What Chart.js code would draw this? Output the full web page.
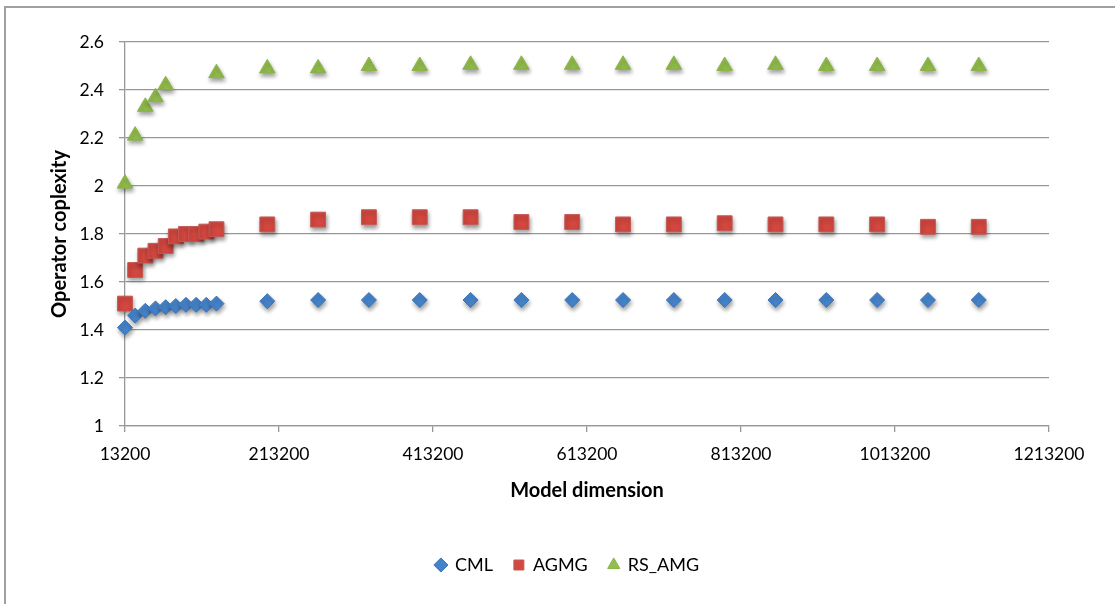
<!DOCTYPE html>
<html>
<head>
<meta charset="utf-8">
<script src="https://cdn.jsdelivr.net/npm/chart.js@4/dist/chart.umd.min.js"></script>
<style>
  html, body { margin: 0; padding: 0; background: #fff; overflow: hidden; }
  #wrap { position: relative; width: 1115px; height: 604px; }
  #frame {
    position: absolute; left: 4px; top: 6px; width: 1300px; height: 800px;
    border-left: 2px solid #a0a0a0; border-top: 2px solid #a0a0a0;
    pointer-events: none;
  }
  canvas { position: absolute; left: 0; top: 0; }
</style>
</head>
<body>
<div id="wrap">
  <canvas id="chart" width="1115" height="604"></canvas>
  <div id="frame"></div>
</div>
<script>
// Model dimensions (x values)
const modelDims = [13200, 26400, 39600, 52800, 66000, 79200, 92400, 105600, 118800, 132000,
  198000, 264000, 330000, 396000, 462000, 528000, 594000, 660000, 726000, 792000,
  858000, 924000, 990000, 1056000, 1122000];

// Operator complexity per solver
const cmlValues = [1.41, 1.46, 1.48, 1.49, 1.495, 1.50, 1.505, 1.505, 1.505, 1.51,
  1.52, 1.525, 1.525, 1.525, 1.525, 1.525, 1.525, 1.525, 1.525, 1.525,
  1.525, 1.525, 1.525, 1.525, 1.525];
const agmgValues = [1.51, 1.65, 1.71, 1.73, 1.75, 1.79, 1.80, 1.80, 1.81, 1.82,
  1.84, 1.86, 1.87, 1.87, 1.87, 1.85, 1.85, 1.84, 1.84, 1.845,
  1.84, 1.84, 1.84, 1.83, 1.83];
const rsAmgValues = [2.01, 2.21, 2.33, 2.37, 2.42, null, null, null, null, 2.47,
  2.49, 2.49, 2.50, 2.50, 2.505, 2.505, 2.505, 2.505, 2.505, 2.50,
  2.505, 2.50, 2.50, 2.50, 2.50];

// Axis ticks
const xTickValues = [13200, 213200, 413200, 613200, 813200, 1013200, 1213200];
const yTickValues = [1, 1.2, 1.4, 1.6, 1.8, 2, 2.2, 2.4, 2.6];

const seriesNames = ['CML', 'AGMG', 'RS_AMG'];

function toPoints(values) {
  const pts = [];
  values.forEach((v, i) => { if (v !== null) pts.push({ x: modelDims[i], y: v }); });
  return pts;
}

const FONT = "Lato, 'Open Sans', sans-serif";
const GRID = '#989898';

// Soft drop shadow under the markers
const markerShadow = {
  id: 'markerShadow',
  beforeDatasetsDraw(chart) {
    const ctx = chart.ctx;
    ctx.save();
    ctx.shadowColor = 'rgba(0,0,0,0.38)';
    ctx.shadowBlur = 4;
    ctx.shadowOffsetX = 1;
    ctx.shadowOffsetY = 3;
  },
  afterDatasetsDraw(chart) {
    chart.ctx.restore();
  }
};

// Legend row sits centred under the whole frame rather than the plot
const legendShift = {
  id: 'legendShift',
  afterLayout(chart) {
    const lg = chart.legend;
    if (lg) { lg.left += 43; lg.right += 43; }
  }
};

new Chart(document.getElementById('chart'), {
  type: 'scatter',
  data: {
    datasets: [
      {
        label: seriesNames[0],
        data: toPoints(cmlValues),
        pointStyle: 'rectRot',
        pointRadius: 7.5,
        pointHoverRadius: 7.5,
        backgroundColor: '#4583C9',
        borderColor: '#3C75B6',
        borderWidth: 1,
        clip: false
      },
      {
        label: seriesNames[1],
        data: toPoints(agmgValues),
        pointStyle: 'rect',
        pointRadius: 10.5,
        pointHoverRadius: 10.5,
        backgroundColor: '#D2473F',
        borderColor: '#C55A55',
        borderWidth: 1,
        clip: false
      },
      {
        label: seriesNames[2],
        data: toPoints(rsAmgValues),
        pointStyle: 'triangle',
        pointRadius: 9,
        pointHoverRadius: 9,
        backgroundColor: '#93BD4C',
        borderColor: '#8AB446',
        borderWidth: 1,
        clip: false
      }
    ]
  },
  options: {
    responsive: false,
    animation: false,
    events: [],
    layout: { padding: { top: 42, right: 66, left: 0, bottom: 20 } },
    plugins: {
      tooltip: { enabled: false },
      legend: {
        position: 'bottom',
        labels: {
          usePointStyle: true,
          boxWidth: 10,
          boxHeight: 10,
          padding: 21,
          color: '#000',
          font: { family: FONT, size: 18 }
        }
      }
    },
    scales: {
      x: {
        type: 'linear',
        min: 13200,
        max: 1213200,
        afterBuildTicks: s => { s.ticks = xTickValues.map(v => ({ value: v })); },
        afterFit: s => { s.height = 109; },
        ticks: {
          color: '#000',
          padding: 12,
          maxRotation: 0,
          autoSkip: false,
          font: { family: FONT, size: 17.5 },
          callback: v => String(v)
        },
        grid: {
          drawOnChartArea: false,
          drawTicks: true,
          tickLength: 6,
          color: GRID,
          lineWidth: 1.3
        },
        border: { display: true, color: GRID, width: 1.3 },
        title: {
          display: true,
          text: 'Model dimension',
          color: '#000',
          font: { family: FONT, size: 20, weight: 'bold' },
          padding: { top: 0, bottom: 32 }
        }
      },
      y: {
        type: 'linear',
        min: 1,
        max: 2.6,
        afterBuildTicks: s => { s.ticks = yTickValues.map(v => ({ value: v })); },
        afterFit: s => { s.width = 125; },
        ticks: {
          color: '#000',
          padding: 15,
          font: { family: FONT, size: 17.5 },
          callback: v => String(Math.round(v * 10) / 10)
        },
        grid: {
          drawTicks: true,
          tickLength: 6,
          color: GRID,
          lineWidth: 1.3
        },
        border: { display: true, color: GRID, width: 1.3 },
        title: {
          display: true,
          text: 'Operator coplexity',
          color: '#000',
          font: { family: FONT, size: 20, weight: 'bold' },
          padding: { top: 48, bottom: 0 }
        }
      }
    }
  },
  plugins: [markerShadow, legendShift]
});
</script>
</body>
</html>
